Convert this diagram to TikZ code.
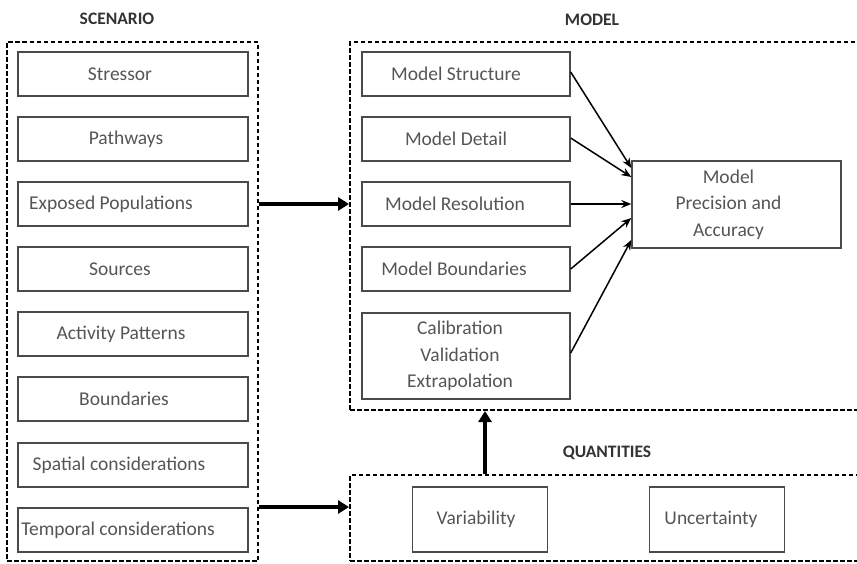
\documentclass[tikz,border=0pt]{standalone}
\usepackage{fontspec}
\setmainfont{Carlito}
\usetikzlibrary{arrows.meta}
\definecolor{txtgray}{HTML}{555555}
\definecolor{edgegray}{HTML}{4A4A4A}
\definecolor{headgray}{HTML}{333333}
\begin{document}
\begin{tikzpicture}[x=1pt,y=-1pt,
  box/.style={draw=edgegray, line width=1.4pt, inner sep=0pt},
  sbox/.style={box, minimum width=230pt, minimum height=44pt},
  mbox/.style={box, minimum width=208pt, minimum height=44pt},
  qbox/.style={box, minimum width=135pt, minimum height=65pt},
  txt/.style={text=txtgray, font=\fontsize{19.5}{26.5}\selectfont, align=center, inner sep=0pt},
  heading/.style={text=headgray, font=\fontsize{17.5}{20}\selectfont\bfseries},
  group/.style={draw=black, line width=2pt, dash pattern=on 4.5pt off 2.5pt, inner sep=0pt},
  thinarrow/.style={-{Stealth[length=10pt,width=8pt]}, line width=1.5pt},
  bigarrow/.style={-{Triangle[length=11pt,width=13pt]}, line width=4pt},
]
\useasboundingbox (0,0) rectangle (857,563);
\clip (0,0) rectangle (857,563);

% group frames (model and quantities run past the right edge)
\node[group, minimum width=251pt, minimum height=519pt] (scen) at (132.5,301.5) {};
\node[group, minimum width=520pt, minimum height=368pt] (model) at (610,226) {};
\node[group, minimum width=520pt, minimum height=86pt] (quant) at (610,518) {};

% headings
\node[heading] (hscen) at (117,19) {SCENARIO};
\node[heading] (hmodel) at (592,20) {MODEL};
\node[heading] (hquant) at (607,453) {QUANTITIES};

% scenario items
\node[sbox, label={[txt,xshift=-13pt]center:Stressor}] (s1) at (133,74) {};
\node[sbox, label={[txt,xshift=-7pt]center:Pathways}] (s2) at (133,139) {};
\node[sbox, label={[txt,xshift=-22pt]center:Exposed Populations}] (s3) at (133,204) {};
\node[sbox, label={[txt,xshift=-13pt]center:Sources}] (s4) at (133,269) {};
\node[sbox, label={[txt,xshift=-12pt]center:Activity Patterns}] (s5) at (133,334) {};
\node[sbox, label={[txt,xshift=-9pt]center:Boundaries}] (s6) at (133,399) {};
\node[sbox, label={[txt,xshift=-14pt]center:Spatial considerations}] (s7) at (133,465) {};
\node[sbox, label={[txt,xshift=-15pt]center:Temporal considerations}] (s8) at (133,530) {};

% model items
\node[mbox, label={[txt,xshift=-10pt]center:Model Structure}] (m1) at (466,74) {};
\node[mbox, label={[txt,xshift=-10pt]center:Model Detail}] (m2) at (466,139) {};
\node[mbox, label={[txt,xshift=-11pt]center:Model Resolution}] (m3) at (466,204) {};
\node[mbox, label={[txt,xshift=-12pt]center:Model Boundaries}] (m4) at (466,269) {};
\node[box, minimum width=208pt, minimum height=86pt,
      label={[txt,xshift=-6pt]center:Calibration\\Validation\\Extrapolation}] (m5) at (466,356) {};

\node[box, minimum width=209pt, minimum height=87pt,
      label={[txt,xshift=-8pt]center:Model\\Precision and\\Accuracy}] (prec) at (736.5,204.5) {};

% quantities items
\node[qbox, label={[txt,xshift=-4pt]center:Variability}] (q1) at (480,519.5) {};
\node[qbox, label={[txt,xshift=-6pt]center:Uncertainty}] (q2) at (717,519.5) {};

% model components feeding precision
\draw[thinarrow] (m1.east |- 0,72) -- (prec.west |- 0,168);
\draw[thinarrow] (m2.east |- 0,138) -- (prec.west |- 0,177);
\draw[thinarrow] (m3.east) -- (prec.west |- 0,204);
\draw[thinarrow] (m4.east |- 0,269) -- (prec.west |- 0,218);
\draw[thinarrow] (m5.east |- 0,353) -- (prec.west |- 0,240);

% flows between the groups
\draw[bigarrow] (scen.east |- s3) -- (model.west |- s3);
\draw[bigarrow] (scen.east |- 0,507) -- (quant.west |- 0,507);
\draw[bigarrow] (quant.north -| 485,0) -- (model.south -| 485,0);
\end{tikzpicture}
\end{document}
